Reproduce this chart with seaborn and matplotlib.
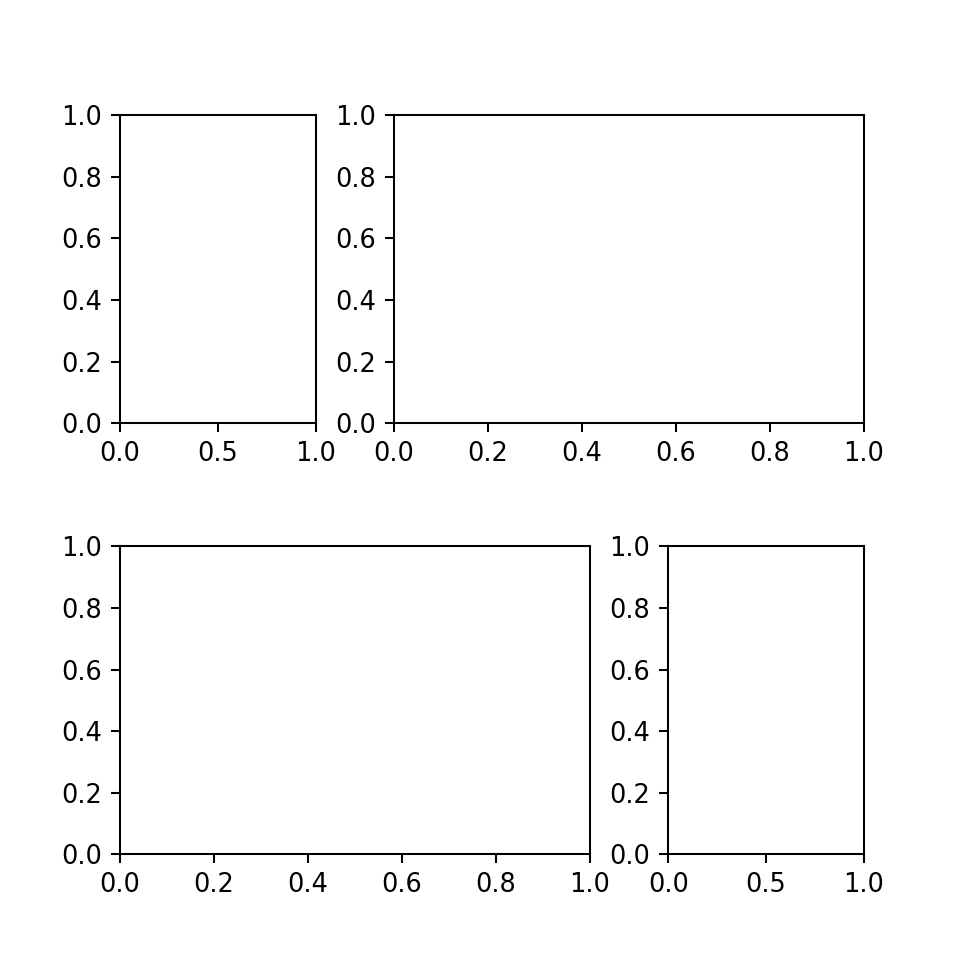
import matplotlib
matplotlib.use("Agg")
import matplotlib.pyplot as plt
import seaborn as sns

# keep matplotlib's own look (black spines, 10pt ticks)
sns.reset_orig()
plt.rcParams['font.family'] = ['DejaVu Sans']

# grid layout: (row, column start, column end) for each panel
panel_rows = [0, 0, 1, 1]
panel_col_start = [0, 1, 0, 2]
panel_col_end = [1, 3, 2, 3]

fig = plt.figure(figsize=(5.2, 5.2))
gs = fig.add_gridspec(2, 3, hspace=0.4, wspace=0.4)

for r, c0, c1 in zip(panel_rows, panel_col_start, panel_col_end):
    ax = fig.add_subplot(gs[r, c0:c1])
    ax.set_xlim(0, 1)
    ax.set_ylim(0, 1)
    sns.despine(ax=ax, top=False, right=False)

fig.savefig("out.png", dpi=960 / 5.2)
